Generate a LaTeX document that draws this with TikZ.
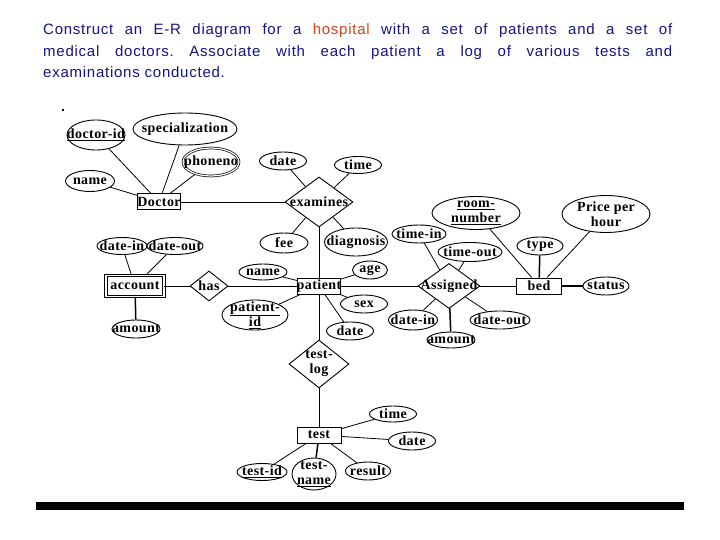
\documentclass[tikz,border=0pt]{standalone}
\usepackage{fontspec}
\usetikzlibrary{shapes.geometric}
\newfontfamily\titlefam[LetterSpace=5]{Liberation Sans}
\newfontfamily\erfam[LetterSpace=3]{Liberation Serif}
\newcommand\erfont{\erfam\bfseries\fontsize{14}{15}\selectfont}
\newcommand\titlefont{\titlefam\fontsize{15}{18}\selectfont\frenchspacing}
\definecolor{titleblue}{RGB}{20,20,130}
\definecolor{hosp}{RGB}{205,70,30}
\tikzset{
  attr/.style 2 args={ellipse, draw, line width=0.9pt, inner sep=0pt, minimum width=#1pt, minimum height=#2pt},
  ent/.style 2 args={rectangle, draw, line width=1pt, inner sep=0pt, minimum width=#1pt, minimum height=#2pt},
  rel/.style 2 args={diamond, draw, line width=0.9pt, inner sep=0pt, minimum width=#1pt, minimum height=#2pt},
  every label/.style={font=\erfont, inner sep=0pt, align=center},
  link/.style={line width=0.8pt},
  heavy/.style={line width=1.5pt},
  titleline/.style={anchor=base west, inner sep=0pt, font=\titlefont, text=titleblue}
}
\begin{document}
\begin{tikzpicture}[x=1pt,y=-1pt]
\useasboundingbox (0,0) rectangle (720,540);
% title
\node[titleline] (t1) at (43,35) {\makebox[629pt][s]{Construct an E-R diagram for a \textcolor{hosp}{hospital} with a set of patients and a set of}};
\node[titleline] (t2) at (43,56.5) {\makebox[629pt][s]{medical doctors. Associate with each patient a log of various tests and}};
\node[titleline] (t3) at (43,78) {examinations conducted.};
% scan dot and bottom bar
\fill (62,109) rectangle (64,111);
\fill (36,502) rectangle (684,510);

% doctor
\node[attr={58}{30}, label={center:{\underline{doctor-id}}}] (docid) at (96,135) {};
\node[attr={104}{32}, label={center:{specialization}}] (spec) at (185,129) {};
\node[attr={56}{28}, double, double distance=1.2pt, line width=0.7pt, label={center:{phoneno}}] (phone) at (211,162) {};
\node[attr={49}{21}, label={center:{name}}] (dname) at (90,181) {};
\node[ent={43}{16}, label={center:{Doctor}}] (doctor) at (159,202) {};

% examines
\node[rel={68}{50}, label={center:{examines}}] (examines) at (319,202) {};
\node[attr={47}{18}, label={center:{date}}] (edate) at (283,161) {};
\node[attr={47}{17}, label={center:{time}}] (etime) at (358,165) {};
\node[attr={48}{20}, label={center:{fee}}] (fee) at (284,243) {};
\node[attr={63}{28}, label={center:{diagnosis}}] (diag) at (356,242) {};

% patient
\node[ent={43}{16}, label={center:{patient}}] (patient) at (319,286) {};
\node[attr={48}{16}, label={center:{name}}] (pname) at (263,272) {};
\node[attr={35}{18}, label={center:{age}}] (age) at (370,270) {};
\node[attr={47}{18}, label={center:{sex}}] (sex) at (364,304) {};
\node[attr={47}{18}, label={center:{date}}] (pdate) at (350,331) {};
\node[attr={66}{30}, label={center:{\underline{patient-}\\\underline{id}}}] (pid) at (255,315) {};

% account
\node[rel={38}{30}, label={center:{has}}] (has) at (209,286) {};
\node[ent={58}{21}, double, double distance=1.3pt, line width=0.9pt, label={center:{account}}] (account) at (135,286) {};
\node[attr={50}{17}, label={center:{date-in}}] (adin) at (122,246) {};
\node[attr={56}{17}, label={center:{date-out}}] (adout) at (175,246) {};
\node[attr={48}{18}, label={center:{amount}}] (aamt) at (136,329) {};

% assigned
\node[rel={62}{45}, label={center:{Assigned}}] (assigned) at (449,286) {};
\node[attr={54}{18}, label={center:{time-in}}] (tin) at (419,234) {};
\node[attr={64}{19}, label={center:{time-out}}] (tout) at (470,252) {};
\node[attr={49}{20}, label={center:{date-in}}] (sdin) at (413,320) {};
\node[attr={60}{18}, label={center:{date-out}}] (sdout) at (500,320) {};
\node[attr={48}{16}, label={center:{amount}}] (samt) at (451,340) {};

% bed
\node[ent={45}{16}, label={center:{bed}}] (bed) at (539,286) {};
\node[attr={88}{33}, label={center:{\underline{room-}\\\underline{number}}}] (room) at (476,213) {};
\node[attr={88}{37}, label={center:{Price per\\hour}}] (price) at (606,214) {};
\node[attr={46}{18}, label={center:{type}}] (type) at (540,246) {};
\node[attr={46}{18}, label={center:{status}}] (status) at (606,286) {};

% test
\node[rel={60}{48}, label={center:{test-\\log}}] (testlog) at (319,364) {};
\node[ent={44}{16}, label={center:{test}}] (test) at (319,435) {};
\node[attr={47}{16}, label={center:{time}}] (ttime) at (393,414) {};
\node[attr={47}{18}, label={center:{date}}] (tdate) at (412,441) {};
\node[attr={50}{17}, label={center:{\underline{test-id}}}] (tid) at (262,472) {};
\node[attr={44}{32}, label={center:{test-\\\underline{name}}}] (tname) at (314,474) {};
\node[attr={45}{18}, label={center:{result}}] (tres) at (368,471) {};

% connectors
\draw[link] (docid) -- (doctor);
\draw[link] (spec) -- (doctor);
\draw[link] (phone) -- (doctor);
\draw[link] (dname) -- (doctor);
\draw[link] (doctor) -- (examines);
\draw[link] (edate) -- (examines);
\draw[link] (etime) -- (examines);
\draw[link] (fee) -- (examines);
\draw[link] (diag) -- (examines);
\draw[link] (examines.south) -- (patient.north);
\draw[link] (pname) -- (patient);
\draw[link] (age) -- (patient);
\draw[link] (sex) -- (patient);
\draw[link] (pdate) -- (patient);
\draw[link] (pid) -- (patient);
\draw[link] (has) -- (patient);
\draw[link] (account) -- (has);
\draw[link] (adin) -- (account);
\draw[link] (adout) -- (account);
\draw[heavy] (account) -- (aamt);
\draw[link] (patient) -- (assigned);
\draw[link] (tin) -- (assigned);
\draw[link] (tout) -- (assigned);
\draw[link] (sdin) -- (assigned);
\draw[link] (sdout) -- (assigned);
\draw[heavy] (assigned) -- (samt);
\draw[link] (assigned) -- (bed);
\draw[link] (room) -- (bed);
\draw[link] (price) -- (bed);
\draw[heavy] (type) -- (bed);
\draw[heavy] (bed) -- (status);
\draw[link] (patient.south) -- (testlog.north);
\draw[link] (testlog.south) -- (test.north);
\draw[link] (ttime) -- (test);
\draw[link] (tdate) -- (test);
\draw[link] (tid) -- (test);
\draw[heavy] (tname) -- (test);
\draw[link] (tres) -- (test);
\end{tikzpicture}
\end{document}
